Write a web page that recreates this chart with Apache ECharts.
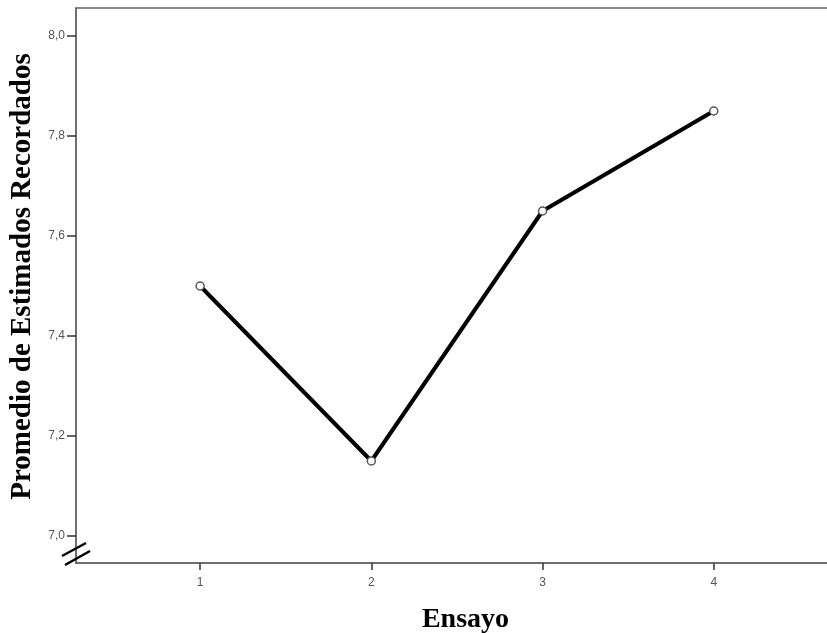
<!DOCTYPE html>
<html>
<head>
<meta charset="utf-8">
<script src="https://cdn.jsdelivr.net/npm/echarts@6/dist/echarts.min.js"></script>
<style>
  html, body { margin: 0; padding: 0; background: #fff; }
  #chart { width: 827px; height: 633px; }
</style>
</head>
<body>
<div id="chart"></div>
<script>
// datos
var ensayos = [1, 2, 3, 4];
var promedios = [7.5, 7.15, 7.65, 7.85];
var yTicks = [7.0, 7.2, 7.4, 7.6, 7.8, 8.0];

var myChart = echarts.init(document.getElementById('chart'));

var lineData = ensayos.map(function (e, i) { return [e, promedios[i]]; });

myChart.setOption({
  animation: false,
  grid: {
    left: 76, top: 8, right: -10, bottom: 70,
    outerBoundsMode: 'none',
    containLabel: false,
    show: true, borderColor: '#666', borderWidth: 1.5
  },
  xAxis: {
    type: 'value',
    min: 0.275,
    max: 4.72,
    name: 'Ensayo',
    nameLocation: 'middle',
    nameGap: 43,
    nameTextStyle: {
      fontFamily: 'Liberation Serif',
      fontWeight: 'bold',
      fontSize: 28,
      color: '#000',
      padding: [0, 0, 0, 18]
    },
    axisLine: { lineStyle: { color: '#666', width: 1.5 } },
    axisTick: { show: true, length: 7, customValues: ensayos, lineStyle: { color: '#333', width: 1.5 } },
    axisLabel: { customValues: ensayos, color: '#555', fontSize: 12, fontFamily: 'Arial', margin: 14 },
    splitLine: { show: false }
  },
  yAxis: {
    type: 'value',
    min: 6.946,
    max: 8.056,
    name: 'Promedio de Estimados Recordados',
    nameLocation: 'middle',
    nameGap: 37,
    nameTextStyle: {
      fontFamily: 'Liberation Serif',
      fontWeight: 'bold',
      fontSize: 29,
      color: '#000',
      padding: [0, 0, 0, 18]
    },
    axisLine: { show: true, lineStyle: { color: '#666', width: 1.5 } },
    axisTick: { show: true, length: 9, customValues: yTicks, lineStyle: { color: '#333', width: 1.5 } },
    axisLabel: {
      customValues: yTicks,
      color: '#555',
      fontSize: 12,
      fontFamily: 'Arial',
      margin: 11,
      formatter: function (v) { return v.toFixed(1).replace('.', ','); }
    },
    splitLine: { show: false }
  },
  series: [{
    type: 'line',
    data: lineData,
    symbol: 'circle',
    symbolSize: 8,
    itemStyle: { color: '#fff', borderColor: '#555', borderWidth: 1.5 },
    lineStyle: { color: '#000', width: 4 },
    z: 3
  }],
  graphic: [
    { type: 'line', shape: { x1: 62, y1: 556, x2: 86, y2: 543 }, style: { stroke: '#000', lineWidth: 2.5 }, z: 100 },
    { type: 'line', shape: { x1: 65, y1: 565, x2: 90, y2: 551 }, style: { stroke: '#000', lineWidth: 2.5 }, z: 100 }
  ]
});
</script>
</body>
</html>
